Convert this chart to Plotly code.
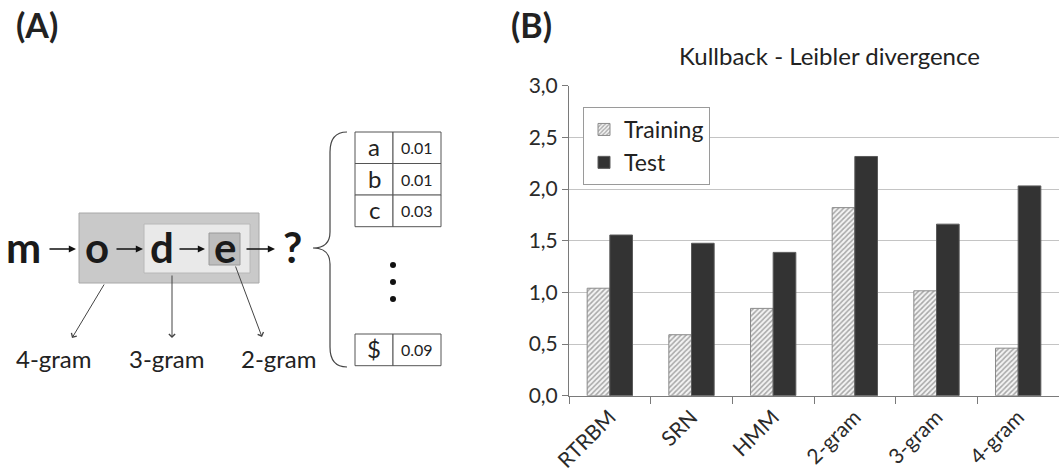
import plotly.graph_objects as go

# ---------------- data ----------------
models = ["RTRBM", "SRN", "HMM", "2-gram", "3-gram", "4-gram"]
training = [1.04, 0.59, 0.845, 1.82, 1.015, 0.46]
test = [1.555, 1.475, 1.387, 2.315, 1.66, 2.03]
y_ticks = [0.0, 0.5, 1.0, 1.5, 2.0, 2.5, 3.0]

seq_letters = ["m", "o", "d", "e", "?"]
ngram_labels = ["4-gram", "3-gram", "2-gram"]
table_symbols = ["a", "b", "c", "$"]
table_probs = ["0.01", "0.01", "0.03", "0.09"]

W, H = 1062, 476
FONT = "Lato"
TXT = "#222222"

fig = go.Figure()

fig.add_trace(go.Bar(
    name="Training", x=models, y=training,
    marker=dict(color="#f4f4f4", line=dict(color="#8a8a8a", width=1),
                pattern=dict(shape="/", fgcolor="#5e5e5e", bgcolor="#f4f4f4",
                             size=3.6, solidity=0.45)),
))
fig.add_trace(go.Bar(
    name="Test", x=models, y=test,
    marker=dict(color="#333333", line=dict(color="#5a5a5a", width=1)),
))

# invisible overlay axes in pixel coordinates for panel (A)
fig.add_trace(go.Scatter(x=[500], y=[400], xaxis="x2", yaxis="y2", mode="markers",
                         marker=dict(opacity=0), showlegend=False, hoverinfo="skip"))

x0, x1 = 569, 1059
y0, y1 = 395.7, 85.7
fig.update_layout(
    width=W, height=H,
    margin=dict(l=0, r=0, t=0, b=0, pad=0, autoexpand=False),
    paper_bgcolor="white", plot_bgcolor="rgba(0,0,0,0)",
    separators=",.",
    font=dict(family=FONT, color=TXT),
    barmode="group", bargap=0.445, bargroupgap=0,
    xaxis=dict(domain=[x0 / W, x1 / W], showgrid=False, showline=True,
               linecolor="#7a7a7a", linewidth=1, ticks="outside", ticklen=7,
               tickcolor="#7a7a7a", tickson="boundaries", tickangle=-45,
               tickfont=dict(size=21, color="#2a2a2a"), anchor="y", automargin=False),
    yaxis=dict(domain=[1 - y0 / H, 1 - y1 / H], range=[0, 3], tickvals=y_ticks,
               tickformat=".1f", showgrid=True, gridcolor="#c4c4c4", gridwidth=1,
               showline=True, linecolor="#7a7a7a", ticks="outside", ticklen=6,
               tickcolor="#7a7a7a", tickfont=dict(size=21, color="#2a2a2a"),
               zeroline=False, anchor="x", automargin=False),
    xaxis2=dict(domain=[0, 1], range=[0, W], visible=False, anchor="y2",
                fixedrange=True, automargin=False),
    yaxis2=dict(domain=[0, 1], range=[H, 0], visible=False, anchor="x2",
                fixedrange=True, automargin=False),
    legend=dict(x=583 / W, y=1 - 107 / H, xanchor="left", yanchor="top",
                bgcolor="white", bordercolor="#9a9a9a", borderwidth=1,
                font=dict(size=23, color=TXT), itemwidth=30, tracegroupgap=0,
                traceorder="normal"),
    showlegend=True,
)

shapes = []
ann = []

def rect(xa, ya, xb, yb, fill, line, w=1):
    shapes.append(dict(type="rect", xref="x2", yref="y2", x0=xa, y0=ya, x1=xb, y1=yb,
                       fillcolor=fill, line=dict(color=line, width=w), layer="below"))

def text(x, y, s, size, bold=False, xanchor="center", color=TXT):
    ann.append(dict(xref="x2", yref="y2", x=x, y=y, text=f"<b>{s}</b>" if bold else s,
                    showarrow=False, font=dict(size=size, family=FONT, color=color),
                    xanchor=xanchor, yanchor="middle"))

def arrow(xt, yt, xh, yh, head=2, width=1.5, color="#111111", size=1.0):
    ann.append(dict(xref="x2", yref="y2", axref="x2", ayref="y2", x=xh, y=yh,
                    ax=xt, ay=yt, text="", showarrow=True, arrowhead=head,
                    arrowwidth=width, arrowcolor=color, arrowsize=size, standoff=0,
                    startstandoff=0))

# panel labels
text(37, 24, "(A)", 34, bold=True)
text(531, 24, "(B)", 34, bold=True)
text(829, 55, "Kullback - Leibler divergence", 24)

# context boxes
rect(79, 213, 259, 283, "#c9c9c9", "#a8a8a8")
rect(144, 224, 250, 273, "#e9e9e9", "#b8b8b8")
rect(209, 233, 240, 265, "#bdbdbd", "#9a9a9a")

# sequence letters
letter_x = [23, 97, 162, 225, 292]
for lx, s in zip(letter_x, seq_letters):
    text(lx, 247, s, 42, bold=True, color="#1a1a1a")

# horizontal arrows
for xa, xb in [(48, 76), (115, 143), (178, 205), (245, 275)]:
    arrow(xa, 249, xb, 249, head=2, width=1.6, size=0.9)

# downward arrows to n-gram labels
arrow(105, 283, 72, 338, head=4, width=1, color="#444444", size=1.2)
arrow(172, 274, 172, 338, head=4, width=1, color="#444444", size=1.2)
arrow(235, 265, 262, 337, head=4, width=1, color="#444444", size=1.2)

for gx, s in zip([54, 167, 279], ngram_labels):
    text(gx, 358, s, 24)

# brace
shapes.append(dict(type="path", xref="x2", yref="y2",
                   path="M 347,132 Q 330,132 330,152 L 330,232 Q 330,248 313,248 "
                        "Q 330,248 330,264 L 330,347 Q 330,367 347,367",
                   line=dict(color="#444444", width=1.2)))

# probability table
row_tops = [132, 163.5, 195, 334]
row_h = 31.7
for i, (sym, p) in enumerate(zip(table_symbols, table_probs)):
    top = row_tops[i]
    rect(355, top, 393, top + row_h, "white", "#555555")
    rect(393, top, 441, top + row_h, "white", "#555555")
    text(374, top + row_h / 2 - 1, sym, 24)
    text(417, top + row_h / 2, p, 16)

# vertical dots
for dy in [265, 282, 299]:
    shapes.append(dict(type="circle", xref="x2", yref="y2", x0=390, x1=396,
                       y0=dy - 3, y1=dy + 3, fillcolor="#111111",
                       line=dict(width=0)))

fig.update_layout(shapes=shapes, annotations=ann)
fig.write_html("out.html")
